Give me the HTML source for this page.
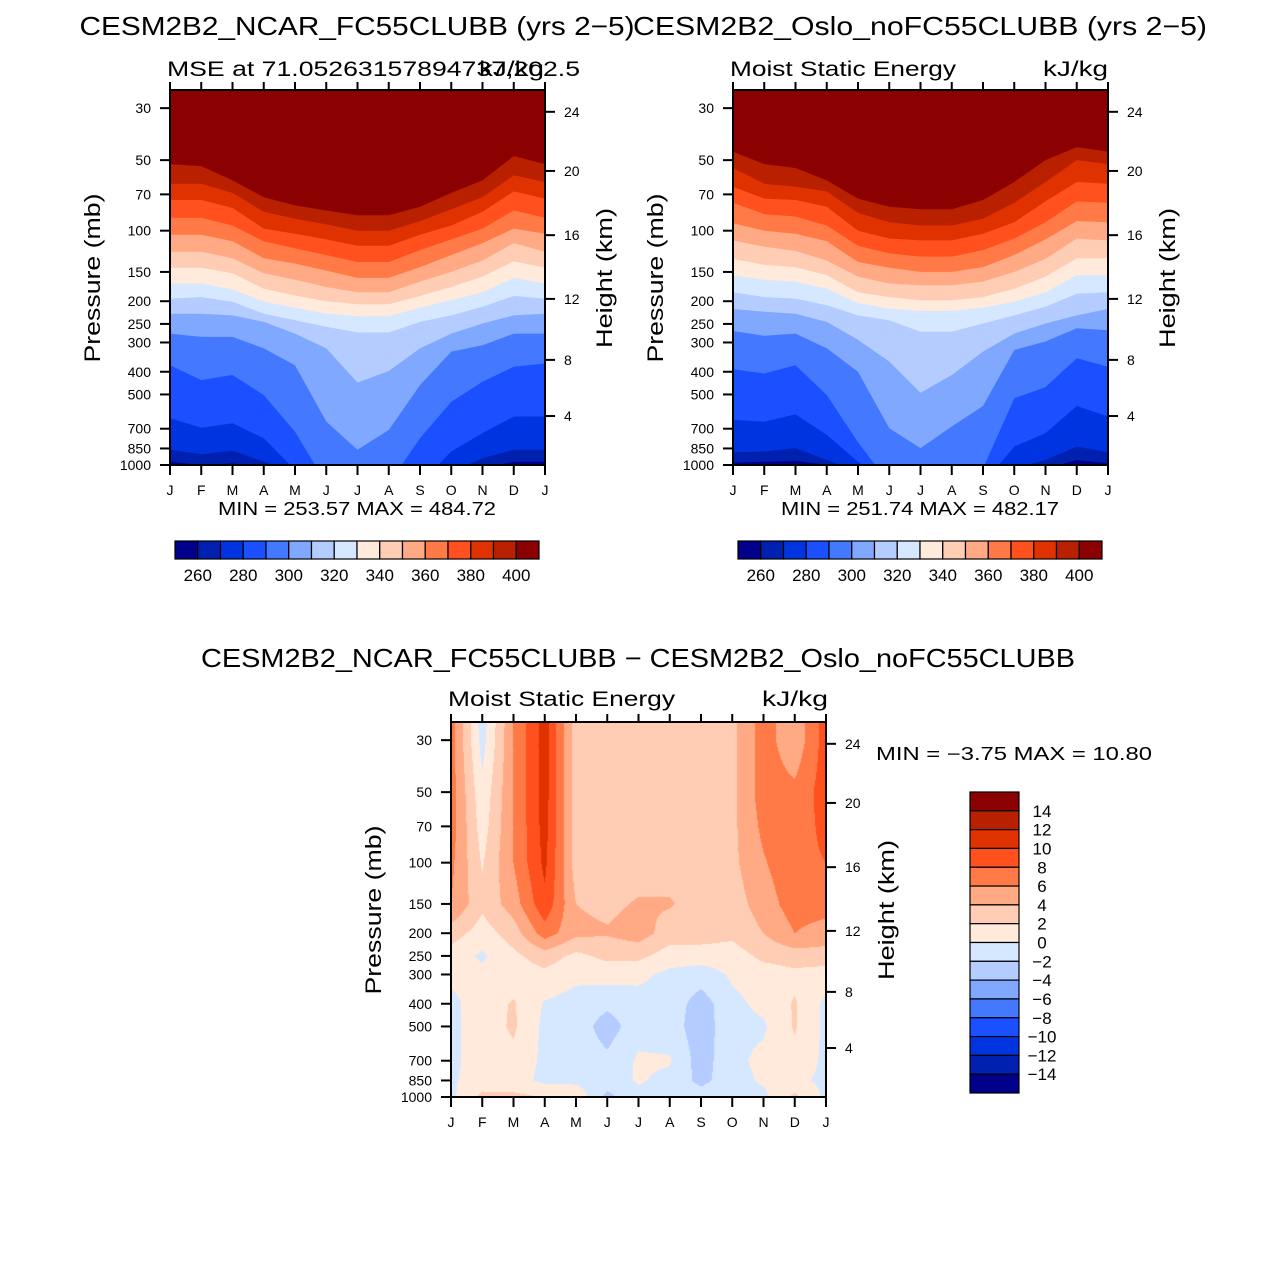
<!DOCTYPE html>
<html><head><meta charset="utf-8">
<style>
html,body{margin:0;padding:0;background:#fff;}
#wrap{position:relative;width:1275px;height:1275px;overflow:hidden;background:#fff;}
#diffCanvas{position:absolute;left:451px;top:722px;}
svg{position:absolute;left:0;top:0;}
text{font-family:"Liberation Sans",sans-serif;fill:#000;}
</style></head>
<body>
<div id="wrap">
<canvas id="diffCanvas" width="375" height="375"></canvas>
<svg id="fig" width="1275" height="1275" viewBox="0 0 1275 1275" xmlns="http://www.w3.org/2000/svg"></svg>
</div>
<script>
// ---------- data ----------
const months = ["J","F","M","A","M","J","J","A","S","O","N","D","J"];
const pressureTicks = [30,50,70,100,150,200,250,300,400,500,700,850,1000];
const heightTicks = [24,20,16,12,8,4];
const heightTickPressures = [31.1,55.6,104.5,195.5,356,618];
const mseLevels = [260,270,280,290,300,310,320,330,340,350,360,370,380,390,400];
const mseTickLabels = [260,280,300,320,340,360,380,400];
const diffLevels = [-14,-12,-10,-8,-6,-4,-2,0,2,4,6,8,10,12,14];
const diffTickLabels = ["14","12","10","8","6","4","2","0","\u22122","\u22124","\u22126","\u22128","\u221210","\u221212","\u221214"];
const palette = ["#00008b","#0020b0","#0034e0","#1a50ff","#4478ff","#80a8ff","#b4ccff","#d6e8ff","#ffeadb","#ffccb4","#ffaa84","#ff7a46","#ff501e","#e03200","#b82000","#8b0000"];

// pressure (mb) where each MSE contour (260..400) crosses, per month J..J
const ncarContourP = [
 [968,1000,984,1035,1200,1200,1200,1200,1200,1200,1035,968,968],
 [861,899,870,968,1070,1200,1200,1200,1200,1070,935,861,861],
 [632,693,664,769,1050,1200,1200,1200,1200,876,731,621,621],
 [375,434,413,503,721,1200,1200,1200,769,537,441,381,369],
 [275,284,284,318,375,653,861,709,456,328,308,275,275],
 [226,226,230,245,275,318,445,397,318,275,249,230,226],
 [195,192,201,226,241,257,272,272,245,230,211,190,195],
 [168,168,178,201,213,226,232,232,213,198,183,159,168],
 [144,144,152,177,189,200,206,206,190,174,157,135,144],
 [123,123,131,152,162,174,183,183,165,150,134,113,123],
 [104,104,111,131,138,148,159,159,143,127,113,98,103],
 [88,88,95,111,119,127,136,136,121,109,98,82,88],
 [74,74,80,98,103,109,116,116,104,95,83,68,73],
 [63,63,69,83,89,94,100,100,91,81,72,58,62],
 [52,53,61,72,78,82,86,86,79,69,61,48,52]
];
const osloContourP = [
 [977,968,960,1000,1200,1200,1200,1200,1200,1200,1035,952,984],
 [882,876,847,952,1070,1200,1200,1200,1200,1035,952,835,882],
 [642,653,608,744,968,1200,1200,1200,1200,835,731,560,621],
 [390,407,375,503,800,1200,1200,1200,1035,519,465,350,381],
 [268,281,275,318,400,697,847,685,560,323,297,261,266],
 [216,222,226,245,292,362,492,413,328,275,249,230,216],
 [183,192,195,208,230,241,270,270,249,230,211,186,183],
 [155,162,165,177,204,215,220,220,213,201,183,155,155],
 [132,140,143,155,183,192,198,198,192,177,157,131,131],
 [110,117,122,134,157,168,171,171,165,150,132,108,110],
 [93,100,103,111,136,144,150,150,143,127,109,91,92],
 [76,85,87,95,116,125,129,129,121,108,92,75,76],
 [65,73,74,79,100,108,110,110,103,92,75,62,63],
 [54,63,65,68,84,92,95,95,89,76,62,50,52],
 [46,52,54,61,73,79,81,81,74,62,50,44,46]
];
// difference field: rows = months J..J, columns = diffPressures
const diffPressures = [25,30,50,70,100,150,200,250,300,400,500,700,850,1000];
const diffValues = [
 [7,7,7,7,6.5,6,3,1,0.5,-0.5,-0.5,-0.5,-0.3,-0.5],
 [-1,-0.8,0.5,1,1.8,2.5,1,-0.3,0.5,1,1,1,1,2.5],
 [6,6,6,6,6,5,3,1.5,1,2.2,2.3,1.5,0.8,2.5],
 [11,11,11,10.8,10.5,9.5,7,3,1.5,-0.2,-0.5,-0.5,-0.5,2],
 [3,3,3,3,3,4,4.5,1.5,0.5,-0.8,-0.8,-0.8,-0.5,1.5],
 [3,3,3,3,3,3.5,4.2,2.5,0.8,-1.5,-3,-1.5,-1,-2.6],
 [3,3,3,3,3,4.2,5,2.5,0.5,-0.8,-0.8,0.3,0.2,-0.5],
 [3,3,3,3,3,4.2,3,1,-0.5,-0.8,-1,0.2,-0.5,-0.5],
 [3,3,3,3,3,3,3,1,-1,-3,-3.2,-3,-2.6,-1],
 [3.5,3.5,3.5,3.5,3.5,3,2.5,1,0.3,-0.5,-0.5,-0.5,-0.8,-0.5],
 [7,7,7,6.5,5.8,5,4,2.5,1,0.5,-0.3,0.5,0.3,-0.5],
 [4.5,4.5,6.5,7,7.5,7,6,3,1.5,2.2,2.2,1.5,0.5,2.5],
 [9,9,9,8.5,8,7,5,3.2,1,-0.5,-0.5,-0.5,-0.5,-0.5]
];

// ---------- helpers ----------
const NS = "http://www.w3.org/2000/svg";
const svg = document.getElementById("fig");
const P_TOP = 25.1, P_BOT = 1000, PW = 375, PH = 375;
function mk(tag, attrs, parent){
  const e = document.createElementNS(NS, tag);
  for (const k in attrs) e.setAttribute(k, attrs[k]);
  (parent||svg).appendChild(e);
  return e;
}
function txt(s, x, y, size, anchor, parent, len, rot){
  const t = mk("text", {x:x, y:y, "font-size":size, "text-anchor":anchor||"start"}, parent);
  if (len){ t.setAttribute("textLength", len); t.setAttribute("lengthAdjust","spacingAndGlyphs"); }
  if (rot) t.setAttribute("transform", "rotate(-90 "+x+" "+y+")");
  t.textContent = s;
  return t;
}
function yScale(top){ return p => top + (Math.log10(p) - Math.log10(P_TOP)) / (Math.log10(P_BOT) - Math.log10(P_TOP)) * PH; }
function xScale(left){ return i => left + i * PW / (months.length - 1); }

function axes(g, left, top, showLeftLabels, leftLabelRight, rightLabelLeft){
  const x = xScale(left), y = yScale(top);
  mk("rect",{x:left,y:top,width:PW,height:PH,fill:"none",stroke:"#000","stroke-width":2},g);
  months.forEach((m,i)=>{
    const xx = x(i);
    const t1 = mk("line",{x1:xx,x2:xx,y1:top,y2:top-8,stroke:"#000","stroke-width":2},g);
    
    
    const t2 = mk("line",{x1:xx,x2:xx,y1:top+PH,y2:top+PH+10,stroke:"#000","stroke-width":2},g);
    
    
    const l = txt(m, xx, top+PH+30, 14, "middle", g);
    
    
  });
  pressureTicks.forEach(p=>{
    const yy = y(p);
    const t = mk("line",{x1:left,x2:left-10,y1:yy,y2:yy,stroke:"#000","stroke-width":2},g);
    
    
    const l = txt(String(p), leftLabelRight, yy+5, 14, "end", g);
    
    
  });
  heightTicks.forEach((h,i)=>{
    const yy = y(heightTickPressures[i]);
    const t = mk("line",{x1:left+PW,x2:left+PW+10,y1:yy,y2:yy,stroke:"#000","stroke-width":2},g);
    
    
    const l = txt(String(h), rightLabelLeft, yy+5, 14, "start", g);
    
    
  });
}

function msePanel(id, left, top, contours){
  const g = mk("g",{});
  
  
  const defs = mk("defs",{},g);
  const cp = mk("clipPath",{id:id+"-clip"},defs);
  mk("rect",{x:left,y:top,width:PW,height:PH},cp);
  const fills = mk("g",{"clip-path":"url(#"+id+"-clip)"},g);
  const base = mk("rect",{x:left,y:top,width:PW,height:PH,fill:palette[0]},fills);
  
  
  const x = xScale(left), y = yScale(top);
  contours.forEach((row,k)=>{
    let pts = row.map((p,i)=> x(i).toFixed(1)+","+y(p).toFixed(1));
    pts.push((left+PW+2)+","+(top-2), (left-2)+","+(top-2));
    pts.unshift((left-2)+","+y(row[0]).toFixed(1));
    pts.push((left-2)+","+(top-2));
    const poly = mk("polygon",{points:pts.join(" "),fill:palette[k+1]},fills);
    
    
  });
  axes(g, left, top, true, left-19, left+PW+19);
  return g;
}

function hColorbar(left, top, width, height, labelY){
  const g = mk("g",{});
  
  
  const w = width / palette.length;
  palette.forEach((c,i)=>{
    const r = mk("rect",{x:left+i*w,y:top,width:w,height:height,fill:c,stroke:"#000","stroke-width":1.2},g);
    
    
  });
  mseTickLabels.forEach(v=>{
    const k = mseLevels.indexOf(v);
    const l = txt(String(v), left+(k+1)*w, labelY, 17, "middle", g);
    
    
  });
}

// ---------- titles ----------
let t;
t = txt("CESM2B2_NCAR_FC55CLUBB (yrs 2\u22125)", 357, 35, 26, "middle", null, 555);
 
t = txt("CESM2B2_Oslo_noFC55CLUBB (yrs 2\u22125)", 920, 35, 26, "middle", null, 574);
 
t = txt("MSE at 71.05263157894737,202.5", 167, 76, 21, "start", null, 413);
 
t = txt("kJ/kg", 544, 76, 21, "end", null, 65);
 
t = txt("Moist Static Energy", 730, 76, 21, "start", null, 226);
 
t = txt("kJ/kg", 1108, 76, 21, "end", null, 65);
 

msePanel("ncar", 170, 90, ncarContourP);
msePanel("oslo", 733, 90, osloContourP);

t = txt("Pressure (mb)", 100, 278, 22, "middle", null, 169, true);
 
t = txt("Height (km)", 612, 278, 22, "middle", null, 140, true);
 
t = txt("Pressure (mb)", 663, 278, 22, "middle", null, 169, true);
 
t = txt("Height (km)", 1175, 278, 22, "middle", null, 140, true);
 

t = txt("MIN = 253.57 MAX = 484.72", 357, 515, 18, "middle", null, 278);
 
t = txt("MIN = 251.74 MAX = 482.17", 920, 515, 18, "middle", null, 278);
 

hColorbar(175, 541, 364, 18, 581);
hColorbar(738, 541, 364, 18, 581);

// ---------- difference panel ----------
t = txt("CESM2B2_NCAR_FC55CLUBB \u2212 CESM2B2_Oslo_noFC55CLUBB", 638, 667, 26, "middle", null, 874);
 
t = txt("Moist Static Energy", 448, 706, 21, "start", null, 227);
 
t = txt("kJ/kg", 828, 706, 21, "end", null, 66);
 

(function drawDiff(){
  const cv = document.getElementById("diffCanvas");
  const ctx = cv.getContext("2d");
  const img = ctx.createImageData(PW, PH);
  const rgb = palette.map(h=>[parseInt(h.slice(1,3),16),parseInt(h.slice(3,5),16),parseInt(h.slice(5,7),16)]);
  const lp = diffPressures.map(p=>Math.log10(p));
  const l0 = Math.log10(P_TOP), l1 = Math.log10(P_BOT);
  for (let py=0; py<PH; py++){
    const L = l0 + (py+0.5)/PH*(l1-l0);
    let j = 0; while (j < lp.length-2 && L > lp[j+1]) j++;
    let fy = (L - lp[j])/(lp[j+1]-lp[j]); fy = Math.max(0, Math.min(1, fy));
    for (let px=0; px<PW; px++){
      const m = (px+0.5)/PW*(months.length-1);
      let i = Math.min(Math.floor(m), months.length-2);
      const fx = m - i;
      const a = diffValues[i][j]*(1-fy) + diffValues[i][j+1]*fy;
      const b = diffValues[i+1][j]*(1-fy) + diffValues[i+1][j+1]*fy;
      const v = a*(1-fx) + b*fx;
      let idx = 0;
      for (let k=0; k<diffLevels.length; k++) if (v >= diffLevels[k]) idx = k+1;
      const o = (py*PW+px)*4, c = rgb[idx];
      img.data[o]=c[0]; img.data[o+1]=c[1]; img.data[o+2]=c[2]; img.data[o+3]=255;
    }
  }
  ctx.putImageData(img,0,0);
})();

const dg = mk("g",{});


axes(dg, 451, 722, true, 432, 845);

t = txt("Pressure (mb)", 381, 910, 22, "middle", null, 169, true);
 
t = txt("Height (km)", 894, 910, 22, "middle", null, 140, true);
 
t = txt("MIN =  \u22123.75 MAX =   10.80", 876, 760, 18, "start", null, 276);
 
t.setAttribute("xml:space","preserve");

(function vColorbar(){
  const g = mk("g",{});
  
  
  const left = 970, top = 792, w = 49, h = 301/palette.length;
  for (let i=0;i<palette.length;i++){
    const r = mk("rect",{x:left,y:top+i*h,width:w,height:h,fill:palette[palette.length-1-i],stroke:"#000","stroke-width":1.2},g);
    
    
  }
  diffTickLabels.forEach((s,i)=>{
    const l = txt(s, 1042, top+(i+1)*h+6, 17, "middle", g);
    
    
  });
})();
</script>
</body></html>
